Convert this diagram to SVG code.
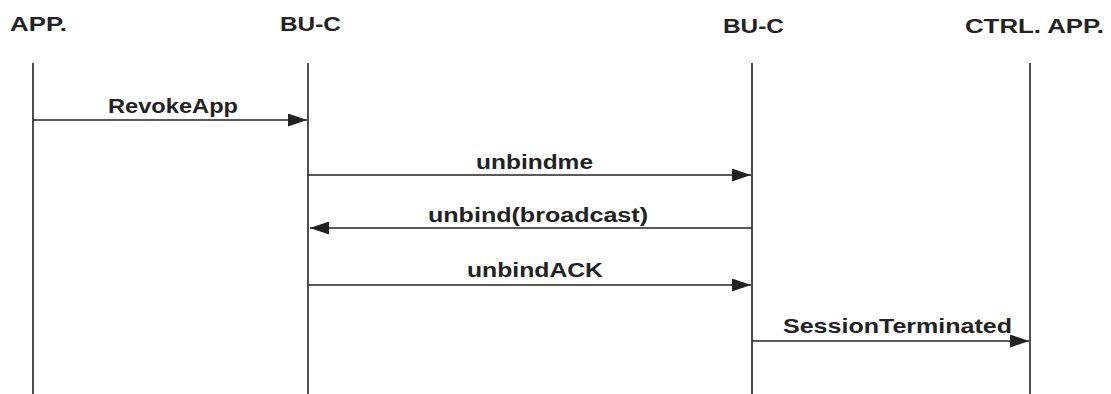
<svg xmlns="http://www.w3.org/2000/svg" width="1111" height="394" viewBox="0 0 1111 394">
<style>
text{font-family:"Liberation Sans",Arial,sans-serif;font-weight:bold;font-size:20px;fill:#222}
.life{stroke:#222;stroke-width:1.6;fill:none}
.msg{stroke:#222;stroke-width:1.6;fill:none;marker-end:url(#ah)}
</style>
<defs>
<marker id="ah" markerUnits="userSpaceOnUse" markerWidth="19" markerHeight="13" refX="19" refY="6.5" orient="auto">
<path d="M0,0 L19,6.5 L0,13 z" fill="#222"/>
</marker>
</defs>
<rect width="1111" height="394" fill="#fff"/>
<g id="app">
<text x="10" y="31" textLength="57" lengthAdjust="spacingAndGlyphs">APP.</text>
<line class="life" x1="33" y1="63" x2="33" y2="394"/>
</g>
<g id="buc1">
<text x="280" y="31" textLength="61" lengthAdjust="spacingAndGlyphs">BU-C</text>
<line class="life" x1="308" y1="63" x2="308" y2="394"/>
</g>
<g id="buc2">
<text x="723" y="33" textLength="61" lengthAdjust="spacingAndGlyphs">BU-C</text>
<line class="life" x1="752" y1="63" x2="752" y2="394"/>
</g>
<g id="ctrlapp">
<text x="965" y="33" textLength="139" lengthAdjust="spacingAndGlyphs">CTRL. APP.</text>
<line class="life" x1="1030" y1="63" x2="1030" y2="394"/>
</g>
<g id="connectors">
<line class="msg" x1="33" y1="120" x2="307" y2="120"/>
<text x="108" y="113" textLength="130" lengthAdjust="spacingAndGlyphs">RevokeApp</text>
<line class="msg" x1="308" y1="175" x2="751" y2="175"/>
<text x="476" y="169" textLength="117" lengthAdjust="spacingAndGlyphs">unbindme</text>
<line class="msg" x1="752" y1="228" x2="310" y2="228"/>
<text x="428" y="222" textLength="220" lengthAdjust="spacingAndGlyphs">unbind(broadcast)</text>
<line class="msg" x1="308" y1="285" x2="751" y2="285"/>
<text x="467" y="277" textLength="136" lengthAdjust="spacingAndGlyphs">unbindACK</text>
<line class="msg" x1="752" y1="341" x2="1029" y2="341"/>
<text x="783" y="333" textLength="229" lengthAdjust="spacingAndGlyphs">SessionTerminated</text>
</g>
</svg>
